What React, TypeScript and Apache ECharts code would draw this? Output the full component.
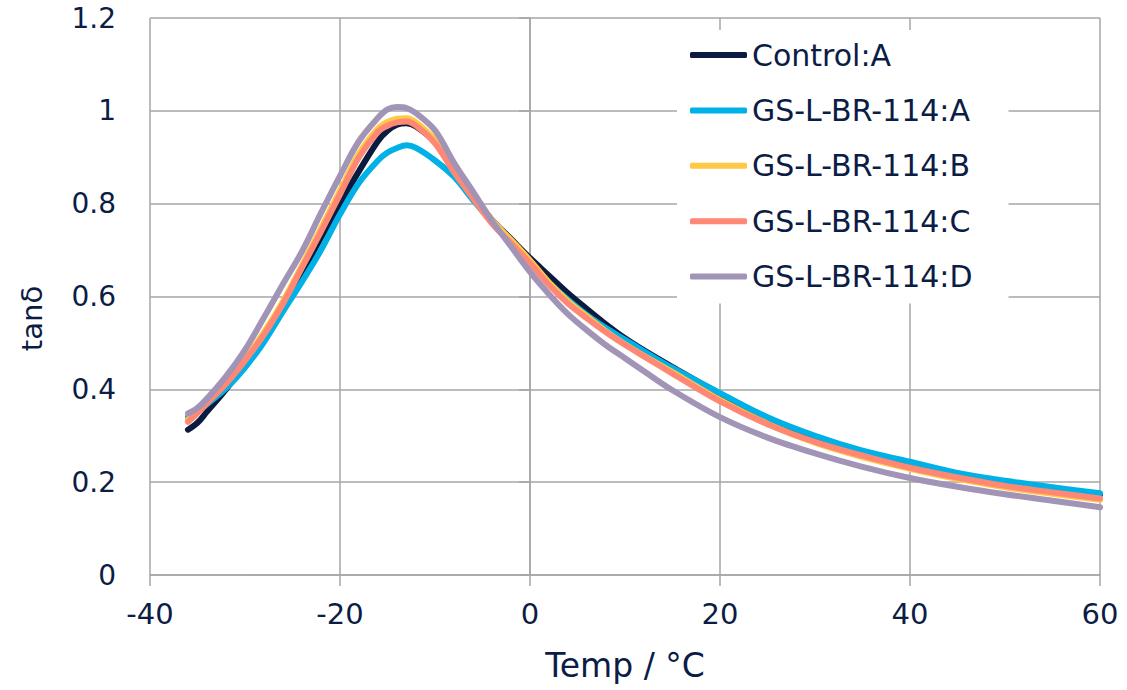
import React, { useEffect, useRef } from "react";
import * as echarts from "echarts";

const temps = [-36, -35, -34, -32, -30, -28, -26, -24, -22, -20, -18, -16, -15, -14, -13, -12, -10, -8, -6, -4, -2, 0, 2, 4, 6, 8, 10, 12, 15, 20, 25, 30, 35, 40, 45, 50, 55, 60];

const controlA = [0.313, 0.328, 0.352, 0.400, 0.455, 0.512, 0.578, 0.650, 0.727, 0.800, 0.870, 0.935, 0.957, 0.970, 0.973, 0.966, 0.932, 0.870, 0.815, 0.765, 0.724, 0.683, 0.645, 0.607, 0.573, 0.540, 0.510, 0.484, 0.448, 0.390, 0.337, 0.298, 0.266, 0.241, 0.218, 0.200, 0.186, 0.173];
const gsA = [0.340, 0.352, 0.368, 0.402, 0.447, 0.502, 0.568, 0.632, 0.700, 0.777, 0.845, 0.893, 0.910, 0.920, 0.926, 0.920, 0.893, 0.858, 0.808, 0.760, 0.716, 0.672, 0.630, 0.593, 0.560, 0.532, 0.507, 0.482, 0.446, 0.392, 0.340, 0.300, 0.268, 0.244, 0.220, 0.203, 0.189, 0.176];
const gsB = [0.335, 0.352, 0.373, 0.417, 0.466, 0.523, 0.590, 0.667, 0.747, 0.828, 0.908, 0.962, 0.976, 0.983, 0.984, 0.975, 0.937, 0.875, 0.818, 0.765, 0.722, 0.678, 0.630, 0.590, 0.557, 0.525, 0.497, 0.472, 0.437, 0.377, 0.326, 0.285, 0.254, 0.229, 0.207, 0.189, 0.175, 0.162];
const gsC = [0.330, 0.349, 0.370, 0.412, 0.462, 0.518, 0.585, 0.662, 0.740, 0.820, 0.900, 0.955, 0.968, 0.975, 0.977, 0.968, 0.930, 0.868, 0.812, 0.757, 0.715, 0.672, 0.625, 0.585, 0.553, 0.523, 0.496, 0.471, 0.434, 0.374, 0.325, 0.287, 0.257, 0.231, 0.210, 0.192, 0.178, 0.165];
const gsD = [0.348, 0.360, 0.380, 0.428, 0.485, 0.555, 0.627, 0.697, 0.780, 0.860, 0.935, 0.985, 1.003, 1.008, 1.006, 0.995, 0.958, 0.888, 0.826, 0.763, 0.708, 0.653, 0.605, 0.562, 0.527, 0.495, 0.467, 0.439, 0.398, 0.340, 0.296, 0.262, 0.233, 0.209, 0.190, 0.174, 0.160, 0.146];

const seriesNames = ["Control:A", "GS-L-BR-114:A", "GS-L-BR-114:B", "GS-L-BR-114:C", "GS-L-BR-114:D"];
const seriesValues = [controlA, gsA, gsB, gsC, gsD];
const colors = ["#0b1a3f", "#00b1e7", "#ffc845", "#ff8874", "#a194b6"];

const xTicks = { min: -40, max: 60, interval: 20 };
const yTicks = { min: 0, max: 1.2, interval: 0.2 };

const TEXT = "#0b1c45";
const GRID = "#a6a6a6";
const FONT = "'DejaVu Sans', sans-serif";

export default function App() {
  const ref = useRef<HTMLDivElement>(null);
  useEffect(() => {
    if (!ref.current) return;
    const chart = echarts.init(ref.current, undefined, { renderer: "svg" });
    chart.setOption({
      animation: false,
      textStyle: { fontFamily: FONT },
      grid: { left: 150, right: 27, top: 18, bottom: 115 },
      legend: {
        orient: "vertical",
        left: 677,
        top: 30,
        padding: [10, 36, 12, 13],
        backgroundColor: "#ffffff",
        icon: "roundRect",
        itemWidth: 57,
        itemHeight: 6,
        itemGap: 25.4,
        textStyle: { color: TEXT, fontSize: 30, lineHeight: 28, fontFamily: FONT },
        data: seriesNames,
      },
      xAxis: {
        type: "value",
        min: xTicks.min,
        max: xTicks.max,
        interval: xTicks.interval,
        name: "Temp / °C",
        nameLocation: "middle",
        nameGap: 74,
        nameTextStyle: { color: TEXT, fontSize: 33, fontFamily: FONT },
        axisLine: { lineStyle: { color: GRID, width: 1.5 } },
        axisTick: { show: true, length: 11, lineStyle: { color: GRID, width: 1.5 } },
        axisLabel: { color: TEXT, fontSize: 29, margin: 24, fontFamily: FONT },
        splitLine: { show: true, lineStyle: { color: GRID, width: 1.5 } },
      },
      yAxis: {
        type: "value",
        min: yTicks.min,
        max: yTicks.max,
        interval: yTicks.interval,
        name: "tanδ",
        nameLocation: "middle",
        nameGap: 104,
        nameTextStyle: { color: TEXT, fontSize: 29, fontFamily: FONT, padding: [0, 44, 0, 0] },
        axisLine: { show: true, lineStyle: { color: GRID, width: 1.5 } },
        axisTick: { show: true, length: 11, lineStyle: { color: GRID, width: 1.5 } },
        axisLabel: { color: TEXT, fontSize: 28, margin: 34, fontFamily: FONT },
        splitLine: { show: true, lineStyle: { color: GRID, width: 1.5 } },
      },
      series: seriesNames.map((name, i) => ({
        name,
        type: "line",
        data: temps.map((t, j) => [t, seriesValues[i][j]]),
        smooth: 0.35,
        symbol: "none",
        lineStyle: { color: colors[i], width: 6, cap: "round", join: "round" },
        itemStyle: { color: colors[i] },
        z: 2 + i,
      })),
    });
    return () => chart.dispose();
  }, []);
  return <div ref={ref} style={{ width: 1127, height: 690, position: "absolute", left: 0, top: 0 }} />;
}
